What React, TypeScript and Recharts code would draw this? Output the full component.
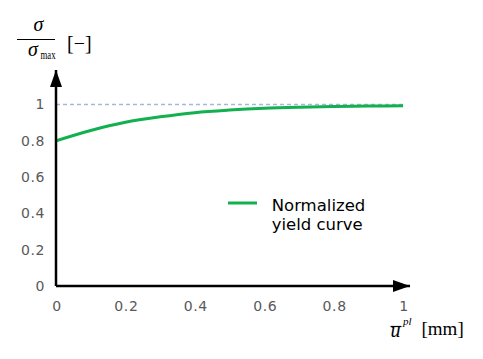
import React from "react";
import {
  LineChart,
  Line,
  XAxis,
  YAxis,
  ReferenceLine,
  ReferenceDot,
  Legend,
} from "recharts";

const xValues = [0, 0.1, 0.2, 0.3, 0.4, 0.5, 0.6, 0.7, 0.8, 0.9, 1];
const yieldValues = [0.8, 0.857, 0.902, 0.932, 0.955, 0.969, 0.979, 0.985, 0.989, 0.991, 0.993];
const xTicks = [0, 0.2, 0.4, 0.6, 0.8, 1];
const yTicks = [0, 0.2, 0.4, 0.6, 0.8, 1];
const seriesName = "Normalized yield curve";
const legendLines = ["Normalized", "yield curve"];

const data = xValues.map((x, i) => ({ x, y: yieldValues[i] }));

const GREEN = "#12b04e";
const TICK_COLOR = "#595959";
const TICK_FONT = "'DejaVu Sans', Verdana, sans-serif";

const XTick = (props: any) => {
  const { x, y, payload } = props;
  return (
    <text x={x + 1} y={y + 10} textAnchor="middle" fontSize={14} letterSpacing={0.6} fontFamily={TICK_FONT} fill={TICK_COLOR}>
      {String(payload.value)}
    </text>
  );
};

const YTick = (props: any) => {
  const { x, y, payload } = props;
  return (
    <text x={x} y={y + 5} textAnchor="end" fontSize={14} letterSpacing={0.6} fontFamily={TICK_FONT} fill={TICK_COLOR}>
      {String(payload.value)}
    </text>
  );
};

const YArrow = (props: any) => {
  const { cx, cy } = props;
  return <polygon points={`${cx},${cy} ${cx - 6},${cy + 17} ${cx + 6},${cy + 17}`} fill="#000" />;
};
const XArrow = (props: any) => {
  const { cx, cy } = props;
  return <polygon points={`${cx},${cy} ${cx - 17},${cy - 6} ${cx - 17},${cy + 6}`} fill="#000" />;
};

const YLabel = () => (
  <g fontFamily="'Liberation Serif', serif" fill="#000">
    <text x={38.5} y={31} fontSize={20} fontStyle="italic" textAnchor="middle">σ</text>
    <line x1={17} x2={55} y1={39.5} y2={39.5} stroke="#000" strokeWidth={1} />
    <text x={28} y={56} fontSize={20} fontStyle="italic">σ</text>
    <text x={40.5} y={59} fontSize={13} textLength={15} lengthAdjust="spacingAndGlyphs">max</text>
    <text x={67} y={49.5} fontSize={20}>[−]</text>
  </g>
);

const XLabel = () => (
  <g fontFamily="'Liberation Serif', serif" fill="#000">
    <text x={390.5} y={336.5} fontSize={20} fontStyle="italic">u</text>
    <line x1={390.5} x2={401.5} y1={326.5} y2={326.5} stroke="#000" strokeWidth={1.2} />
    <text x={403} y={325} fontSize={11} fontStyle="italic">pl</text>
    <text x={421.5} y={334.5} fontSize={19}>[mm]</text>
  </g>
);

const LegendContent = () => (
  <svg width={170} height={50} style={{ display: "block" }}>
    <line x1={0} x2={29} y1={13} y2={13} stroke={GREEN} strokeWidth={3} />
    <text x={43.7} y={20.5} fontFamily={TICK_FONT} fontSize={16.5} fill="#000">
      {legendLines[0]}
    </text>
    <text x={43.7} y={39.5} fontFamily={TICK_FONT} fontSize={16.5} fill="#000">
      {legendLines[1]}
    </text>
  </svg>
);

export default function App() {
  return (
    <div style={{ position: "absolute", left: 0, top: 0, background: "#fff" }}>
      <LineChart
        width={483}
        height={359}
        data={data}
        margin={{ top: 70, right: 73, left: 0, bottom: 43 }}
      >
        <XAxis
          dataKey="x"
          type="number"
          domain={[0, 1.02]}
          ticks={xTicks}
          allowDataOverflow
          height={30}
          axisLine={{ stroke: "#000", strokeWidth: 2.5 }}
          tickLine={false}
          tickSize={0}
          tickMargin={15}
          tick={<XTick />}
          label={<XLabel />}
        />
        <YAxis
          type="number"
          domain={[0, 1.19]}
          ticks={yTicks}
          allowDataOverflow
          width={56}
          axisLine={{ stroke: "#000", strokeWidth: 2.5 }}
          tickLine={false}
          tickSize={0}
          tickMargin={11}
          tick={<YTick />}
          label={<YLabel />}
        />
        <ReferenceLine
          segment={[
            { x: 0, y: 1 },
            { x: 1, y: 1 },
          ]}
          stroke="#a7b7d6"
          strokeWidth={1.5}
          strokeDasharray="4 3"
        />
        <Line
          type="monotone"
          dataKey="y"
          name={seriesName}
          stroke={GREEN}
          strokeWidth={3}
          dot={false}
          activeDot={false}
          isAnimationActive={false}
        />
        <ReferenceDot x={0} y={1.19} r={0} shape={<YArrow />} ifOverflow="visible" />
        <ReferenceDot x={1.02} y={0} r={0} shape={<XArrow />} ifOverflow="visible" />
        <Legend
          layout="vertical"
          align="center"
          verticalAlign="middle"
          content={<LegendContent />}
          wrapperStyle={{ position: "absolute", left: 228, top: 190, width: 170, height: 50 }}
        />
      </LineChart>
    </div>
  );
}
